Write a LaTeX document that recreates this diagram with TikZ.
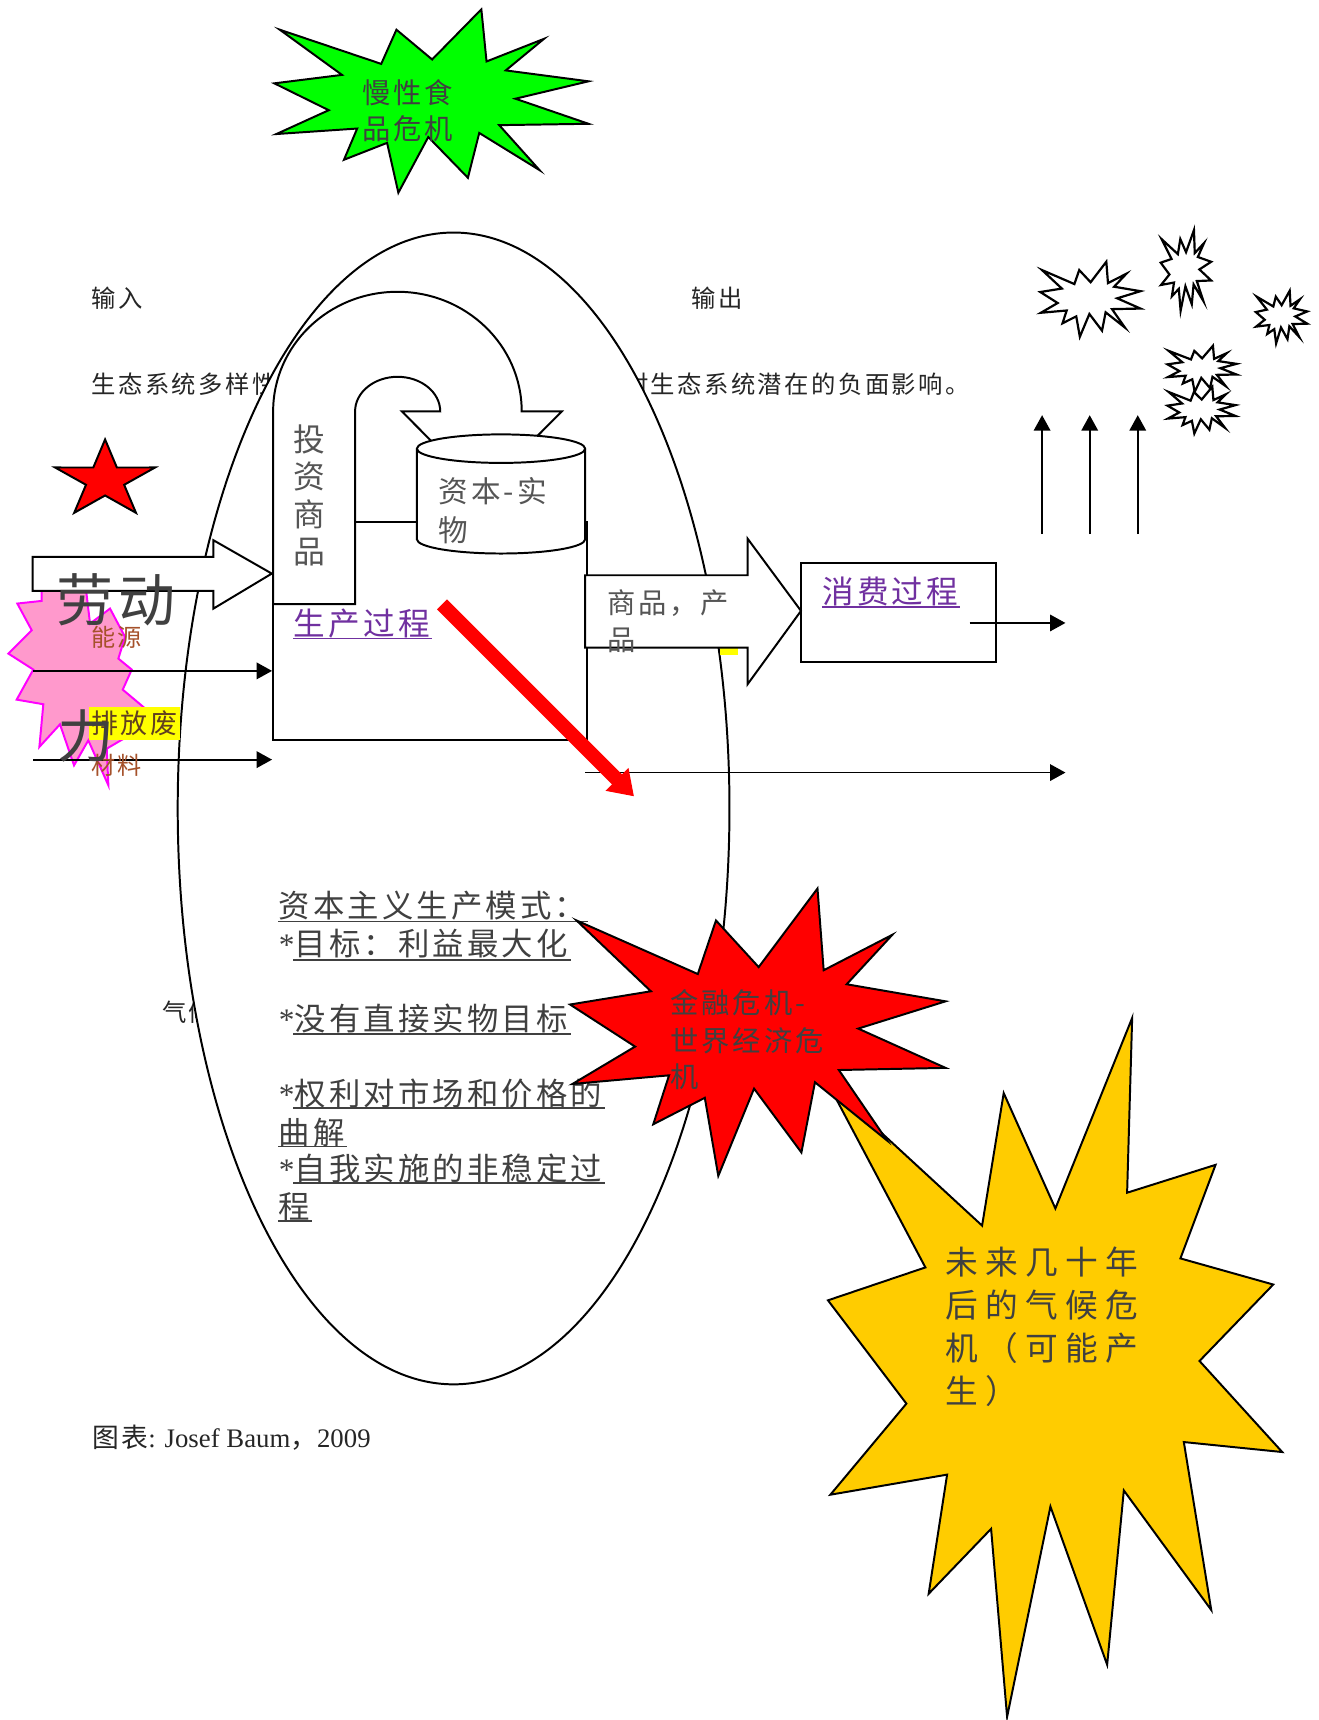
\documentclass[tikz,border=0pt]{standalone}
\usepackage{fontspec}
\setmainfont{Noto Sans CJK SC}
\newfontfamily\cjk{Noto Sans CJK SC}[LetterSpace=10]
\newfontfamily\cjkw{Noto Sans CJK SC}[LetterSpace=22]
\newfontfamily\tms{Liberation Serif}
\usetikzlibrary{arrows.meta}
\definecolor{tgray}{HTML}{404040}
\definecolor{lgray}{HTML}{555555}
\definecolor{tblack}{HTML}{262626}
\definecolor{lnk}{HTML}{7030A0}
\definecolor{brn}{HTML}{A5512A}
\definecolor{dbrn}{HTML}{604020}
\definecolor{sealgreen}{HTML}{00FF00}
\definecolor{sealyellow}{HTML}{FFCC00}
\definecolor{sealpink}{HTML}{FF99CC}
\definecolor{sealmag}{HTML}{FF00FF}
\definecolor{hiyellow}{HTML}{FFFF00}
\newcommand{\fsz}[1]{\fontsize{#1}{#1}\selectfont}
\def\sealpath{(504.7,273.4) -- (391.6,111.1) -- (343.4,297.5) -- (22.0,111.1) -- (219.1,357.5) -- (4.9,403.6) -- (177.2,550.0) -- (11.3,680.0) -- (267.2,650.0) -- (225.4,820.3) -- (362.0,728.2) -- (397.7,1000) -- (492.5,696.2) -- (618.0,918.5) -- (653.9,674.1) -- (844.8,876.6) -- (717.2,631.5) -- (1000,624.1) -- (768.5,487.4) -- (1000,392.5) -- (737.9,333.1) -- (859.1,160.8) -- (677.0,284.3) -- (660.6,0) -- cycle}
\begin{document}
\begin{tikzpicture}[x=0.5pt,y=-0.5pt,
  lbl/.style={inner sep=0pt, anchor=west},
  outl/.style={draw=black, line width=0.9pt, line join=miter},
  conn/.style={line width=0.8pt, -{Triangle[length=7pt,width=7.5pt]}},
  uln/.style={line width=0.7pt},
  seal/.style={fill=white, draw=black, line width=1pt},
]
\useasboundingbox (0,0) rectangle (1202,1568);
\fill[white] (0,0) rectangle (1202,1568);

% texts lying under the ellipse
\node[lbl, font=\cjk\fsz{11.1pt}, text=tblack] (in) at (83,272) {输入};
\node[lbl, font=\cjk\fsz{11.1pt}, text=tblack] (out) at (630,272) {输出};
\node[lbl, font=\cjk\fsz{11.1pt}, text=tblack] (eco) at (83,350) {生态系统多样性};
\node[lbl, font=\cjk\fsz{11.1pt}, text=tblack] (neg) at (568.5,350) {对生态系统潜在的负面影响。};
\node[lbl, font=\cjk\fsz{11.1pt}, text=tblack] (clim) at (147.4,923) {气候};

% big ellipse
\filldraw[fill=white, outl] (413.5,737) ellipse [x radius=251.5, y radius=525];

% green seal
\begin{scope}[shift={(248.7,8.5)}, xscale=0.2878, yscale=0.1672]
\filldraw[fill=sealgreen, outl] \sealpath;
\end{scope}
\node[lbl, font=\cjk\fsz{12.9pt}, text=tgray] (g1) at (329.8,84.4) {慢性食};
\node[lbl, font=\cjk\fsz{12.9pt}, text=tgray] (g2) at (329.8,117.8) {品危机};

% red five-point star
\begin{scope}[shift={(95.8,437.6)}, xscale=1.296, yscale=-1]
\filldraw[fill=red, outl] (90:37) -- (126:14.1) -- (162:37) -- (198:14.1) -- (234:37) -- (270:14.1) -- (306:37) -- (342:14.1) -- (18:37) -- (54:14.1) -- cycle;
\end{scope}

% pink seal
\filldraw[fill=sealpink, draw=sealmag, line width=0.9pt] (38.0,538.1) -- (38.0,547.8) -- (15.8,550.2) -- (28.9,574.5) -- (7.6,595.8) -- (30.4,610.4) -- (15.2,637.8) -- (39.5,642.0) -- (35.9,680.9) -- (54.7,660.3) -- (67.5,697.7) -- (80.5,674.9) -- (98.8,715.9) -- (97.3,682.5) -- (115.5,671.8) -- (130.7,644.5) -- (111.9,628.7) -- (120.1,610.4) -- (107.9,600.4) -- (114,580.6) -- (100.3,554.8) -- (82.1,568.5) -- (77.5,530) -- (60,515) -- (40,530) -- cycle;

% production box
\node[draw, line width=0.9pt, minimum width=143.25pt, minimum height=99.25pt, inner sep=0pt, anchor=north west] (prod) at (248,475) {};

% investment U-turn arrow
\filldraw[fill=white, outl] (249,550.8) -- (249,375) arc[start angle=180, end angle=360, x radius=113.3, y radius=109] -- (512.2,375) -- (439.3,448.4) -- (366.3,375) -- (401.3,375) arc[start angle=360, end angle=180, x radius=38.8, y radius=31.5] -- (323.7,550.8) -- cycle;
\node[inner sep=0pt, align=center, font=\cjk\fontsize{14.5pt}{17pt}\selectfont, text=lgray] (inv) at (282,451.5) {投\\资\\商\\品};

% cylinder
\filldraw[fill=white, outl] (380,409) arc[start angle=180, end angle=360, x radius=76.75, y radius=13] -- (533.5,491.6) arc[start angle=0, end angle=180, x radius=76.75, y radius=13] -- cycle;
\draw[outl] (533.5,409) arc[start angle=0, end angle=180, x radius=76.75, y radius=13];
\node[lbl, font=\cjk\fsz{13.5pt}, text=lgray] (cap1) at (399.5,447.5) {资本-实};
\node[lbl, font=\cjk\fsz{13.5pt}, text=lgray] (cap2) at (399.5,483.5) {物};

% labour arrow
\filldraw[fill=white, outl] (29.8,507.7) -- (194.6,507.7) -- (194.6,492.5) -- (247.8,522.9) -- (194.6,554.8) -- (194.6,538.7) -- (29.8,538.7) -- cycle;

% energy / material arrows
\coordinate (e0) at (30.4,611.6);
\coordinate (m0) at (30.4,692.5);
\draw[conn] (e0) -- (e0 -| prod.west);
\draw[conn] (m0) -- (m0 -| prod.west);

% left labels
\node[lbl, font=\cjk\fsz{11pt}, text=brn] (en) at (82.7,581.4) {能源};
\fill[hiyellow] (81.5,644.5) rectangle (164.2,674.9);
\node[lbl, font=\cjk\fsz{12.3pt}, text=dbrn] (waste) at (82.7,659.7) {排放废};
\node[lbl, font=\cjk\fsz{11pt}, text=brn] (mat) at (82.7,697.7) {材料};
\node[lbl, font=\cjk\fsz{26pt}, text=tgray] (lab1) at (50.7,546.4) {劳动};
\node[lbl, font=\cjk\fsz{26pt}, text=tgray] (lab2) at (52.3,671.2) {力};

% production label
\node[lbl, font=\cjk\fsz{14.4pt}, text=lnk] (prodtxt) at (267.5,568.5) {生产过程};
\draw[uln, lnk] (267.5,582) -- (393.7,582);

% goods arrow
\fill[hiyellow] (656.6,591) rectangle (673,597.5);
\filldraw[fill=white, outl] (533.5,524.4) -- (681.5,524.4) -- (681.5,491) -- (730.2,556.9) -- (681.5,623.8) -- (681.5,590.3) -- (533.5,590.3) -- cycle;
\node[lbl, font=\cjk\fsz{12.9pt}, text=lgray] (goods1) at (553,549.5) {商品，产};
\node[lbl, font=\cjk\fsz{12.9pt}, text=lgray] (goods2) at (553,584) {品};

% consumption box
\node[draw, line width=0.9pt, minimum width=88.9pt, minimum height=45.15pt, inner sep=0pt, anchor=north west] (cons) at (729.6,512.2) {};
\node[lbl, font=\cjk\fsz{14.4pt}, text=lnk] (constxt) at (749.3,539.2) {消费过程};
\draw[uln, lnk] (749.3,553.3) -- (874.9,553.3);

% output arrows
\coordinate (c0) at (884,567.9);
\coordinate (c1) at (971.3,567.9);
\draw[conn] (c0) -- (c1);
\coordinate (w0) at (533.5,704.3);
\coordinate (w1) at (971.3,704.3);
\draw[conn] (w0) -- (w1);
\coordinate (u1a) at (950,487);    \coordinate (u1b) at (950,378.5);
\coordinate (u2a) at (993.4,487);  \coordinate (u2b) at (993.4,378.5);
\coordinate (u3a) at (1037.2,487); \coordinate (u3b) at (1037.2,378.5);
\draw[conn] (u1a) -- (u1b);
\draw[conn] (u2a) -- (u2b);
\draw[conn] (u3a) -- (u3b);

% capitalist mode text
\begin{scope}[every node/.style={lbl, font=\cjk\fsz{14.3pt}, text=tgray}]
\node (b1) at (253.8,826) {资本主义生产模式：};
\node (b2) at (253.8,860) {{\tms *}目标：利益最大化};
\node (b4) at (253.8,928.3) {{\tms *}没有直接实物目标};
\node (b6) at (253.8,997) {{\tms *}权利对市场和价格的};
\node (b7) at (253.8,1032.8) {曲解};
\node (b8) at (253.8,1065.5) {{\tms *}自我实施的非稳定过};
\node (b9) at (253.8,1100.5) {程};
\end{scope}
\begin{scope}[uln, tgray]
\draw (253.8,840) -- (536.3,840);
\draw (267.5,875) -- (520.4,875);
\draw (267.5,942.4) -- (520.4,942.4);
\draw (267.5,1010) -- (551.8,1010);
\draw (253.8,1045) -- (316.2,1045);
\draw (267.5,1078.6) -- (551.8,1078.6);
\draw (253.8,1113.3) -- (284.2,1113.3);
\end{scope}

% yellow seal (climate crisis)
\filldraw[fill=sealyellow, outl] (755,988) -- (895.3,1117.3) -- (915.0,996.5) -- (962.1,1101.7) -- (1032.1,928) -- (1027.5,1087.3) -- (1108.1,1061.9) -- (1076.1,1147.2) -- (1160.7,1171.0) -- (1093.5,1240.7) -- (1168.9,1323.7) -- (1079.2,1314.6) -- (1104.2,1467.7) -- (1024.5,1358.7) -- (1009.3,1517.6) -- (957.6,1373.4) -- (918.1,1565.1) -- (903.5,1393.7) -- (846.6,1452.9) -- (863.4,1344.3) -- (757.0,1362.6) -- (826.3,1279.6) -- (754.8,1185.4) -- (843.6,1155.4) -- cycle;
\begin{scope}[every node/.style={lbl, font=\cjkw\fsz{14.9pt}, text=tgray}]
\node (y1) at (861.8,1150.5) {未来几十年};
\node (y2) at (861.8,1190) {后的气候危};
\node (y3) at (861.8,1229) {机（可能产};
\node (y4) at (861.8,1268) {生）};
\end{scope}

% red seal (financial crisis)
\begin{scope}[shift={(518,810)}, xscale=0.344, yscale=0.262]
\filldraw[fill=red, outl] \sealpath;
\end{scope}
\begin{scope}[every node/.style={lbl, font=\cjk\fsz{12.9pt}, text=tgray}]
\node (r1) at (611,914.3) {金融危机-};
\node (r2) at (611,949.2) {世界经济危};
\node (r3) at (611,982) {机};
\end{scope}

% thick red arrow
\coordinate (ra0) at (403,551);
\coordinate (ra1) at (578,726);
\draw[red, line width=6.5pt, -{Triangle[length=11pt,width=14pt]}] (ra0) -- (ra1);

% small explosions
\begin{scope}[shift={(947.9,238.6)}, xscale=0.0918, yscale=0.0684]
\filldraw[seal] \sealpath;
\end{scope}
\begin{scope}[shift={(1057.9,209.8)}, xscale=0.0462, yscale=0.0735]
\filldraw[seal] \sealpath;
\end{scope}
\begin{scope}[shift={(1144.6,265.1)}, xscale=0.0471, yscale=0.048]
\filldraw[seal] \sealpath;
\end{scope}
\begin{scope}[shift={(1064,315.2)}, xscale=0.0632, yscale=0.042]
\filldraw[seal] \sealpath;
\end{scope}
\begin{scope}[shift={(1064,352.6)}, xscale=0.0623, yscale=0.0426]
\filldraw[seal] \sealpath;
\end{scope}

% credit
\node[lbl, font=\tms\fsz{12.2pt}, text=tblack] (credit) at (83.6,1311) {{\cjk 图表}: Josef Baum{\cjk ，}2009};
\end{tikzpicture}
\end{document}
